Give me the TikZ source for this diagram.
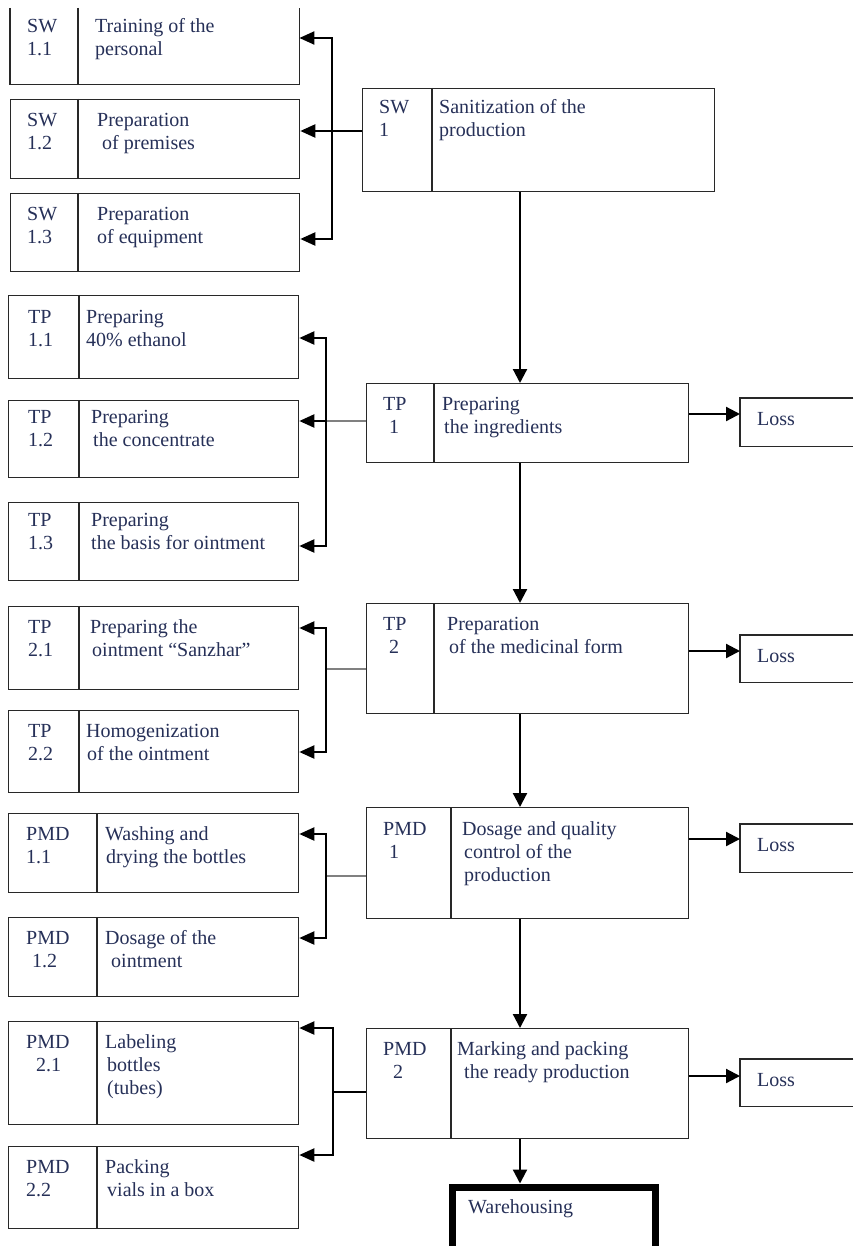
\documentclass[tikz,border=0pt]{standalone}
\usepackage{fontspec}
\setmainfont{Liberation Serif}
\usetikzlibrary{arrows.meta}
\definecolor{txtc}{RGB}{38,48,88}
\definecolor{linec}{RGB}{40,40,40}
\newcommand\pbox[6]{%
  \node[pboxst, minimum width={#4pt-#2pt}, minimum height={#5pt-#3pt}, anchor=north west] (#1) at (#2,#3) {};
  \draw[divst] (#6,#3) -- (#6,#5);}
\begin{document}
\begin{tikzpicture}[x=1pt,y=-1pt,
  pboxst/.style={draw=linec, line width=1.3pt, inner sep=0pt, fill=none},
  divst/.style={draw=linec, line width=1.2pt},
  txt/.style={anchor=base west, inner sep=0pt, align=left, text=txtc,
    font=\fontsize{20}{23}\selectfont},
  txt2/.style={txt, yshift=-23pt},
  txt3/.style={txt, yshift=-46pt},
  bus/.style={line width=2.2pt, black, -{Triangle[length=15pt,width=13pt]}},
  mainarr/.style={line width=2.2pt, black, -{Triangle[length=14pt,width=14pt]}},
  feedg/.style={line width=1.3pt, black!50},
  feedk/.style={line width=1.3pt, black},
  feedb/.style={line width=2pt, black}]
\useasboundingbox (0,0) rectangle (853,1246);
\fill[white] (0,0) rectangle (853,1246);

% ---------- SW group ----------
\node[inner sep=0pt, minimum width=289pt, minimum height=76pt, anchor=north west] (sw11) at (10,8) {};
\draw[pboxst] (sw11.north west) -- (sw11.south west) -- (sw11.south east) -- (sw11.north east);
\draw[divst] (78,8) -- (78,84);
\node[txt2] (sw11l) at (27,33) {SW\\1.1};
\node[txt2] (sw11t) at (95,33) {Training of the\\personal};

\pbox{sw12}{10}{99}{299}{178}{78}
\node[txt2] (sw12l) at (27,127) {SW\\1.2};
\node[txt2] (sw12t) at (97,127) {Preparation\\\hspace*{5pt}of premises};

\pbox{sw13}{10}{193}{299}{271}{78}
\node[txt2] (sw13l) at (27,221) {SW\\1.3};
\node[txt2] (sw13t) at (97,221) {Preparation\\of equipment};

\pbox{sw1}{362}{88}{714}{191}{432}
\node[txt2] (sw1l) at (379,114) {SW\\1};
\node[txt2] (sw1t) at (439,114) {Sanitization of the\\production};

\coordinate (jsw) at (332,131);
\coordinate (jsw1) at (332,38);
\coordinate (jsw3) at (332,239);
\draw[feedb] (sw1.west |- jsw) -- (jsw);
\draw[bus] (jsw) -- (sw12.east |- jsw);
\draw[bus] (jsw3) -- (jsw1) -- (sw11.east |- jsw1);
\draw[bus] (jsw1) -- (jsw3) -- (sw13.east |- jsw3);

% ---------- TP1 group ----------
\pbox{tp11}{8}{295}{298}{378}{79}
\node[txt2] (tp11l) at (28,323) {TP\\1.1};
\node[txt2] (tp11t) at (86,323) {Preparing\\40\% ethanol};

\pbox{tp12}{8}{400}{298}{477}{79}
\node[txt2] (tp12l) at (28,423) {TP\\1.2};
\node[txt2] (tp12t) at (91,423) {Preparing\\\hspace*{2pt}the concentrate};

\pbox{tp13}{8}{502}{298}{580}{79}
\node[txt2] (tp13l) at (28,526) {TP\\1.3};
\node[txt2] (tp13t) at (91,526) {Preparing\\the basis for ointment};

\pbox{tp1}{366}{383}{688}{462}{434}
\node[txt2] (tp1l) at (383,410) {TP\\\hspace*{6pt}1};
\node[txt2] (tp1t) at (442,410) {Preparing\\\hspace*{2pt}the ingredients};

\coordinate (jtp) at (326,421);
\coordinate (jtp1) at (326,338);
\coordinate (jtp3) at (326,546);
\draw[feedg] (tp1.west |- jtp) -- (jtp);
\draw[bus] (jtp) -- (tp12.east |- jtp);
\draw[bus] (jtp3) -- (jtp1) -- (tp11.east |- jtp1);
\draw[bus] (jtp1) -- (jtp3) -- (tp13.east |- jtp3);

% ---------- TP2 group ----------
\pbox{tp21}{8}{606}{298}{689}{79}
\node[txt2] (tp21l) at (28,633) {TP\\2.1};
\node[txt2] (tp21t) at (90,633) {Preparing the\\\hspace*{2pt}ointment “Sanzhar”};

\pbox{tp22}{8}{710}{298}{792}{79}
\node[txt2] (tp22l) at (28,737) {TP\\2.2};
\node[txt2] (tp22t) at (86,737) {Homogenization\\\hspace*{1pt}of the ointment};

\pbox{tp2}{366}{603}{688}{713}{434}
\node[txt2] (tp2l) at (383,630) {TP\\\hspace*{6pt}2};
\node[txt2] (tp2t) at (447,630) {Preparation\\\hspace*{2pt}of the medicinal form};

\coordinate (jtq) at (326,669);
\coordinate (jtq1) at (326,628);
\coordinate (jtq2) at (326,752);
\draw[feedg] (tp2.west |- jtq) -- (jtq);
\draw[bus] (jtq2) -- (jtq1) -- (tp21.east |- jtq1);
\draw[bus] (jtq1) -- (jtq2) -- (tp22.east |- jtq2);

% ---------- PMD1 group ----------
\pbox{pm11}{8}{813}{298}{892}{97}
\node[txt2] (pm11l) at (26,840) {PMD\\1.1};
\node[txt2] (pm11t) at (105,840) {Washing and\\\hspace*{1pt}drying the bottles};

\pbox{pm12}{8}{917}{298}{996}{97}
\node[txt2] (pm12l) at (26,944) {PMD\\\hspace*{6pt}1.2};
\node[txt2] (pm12t) at (105,944) {Dosage of the\\\hspace*{6pt}ointment};

\pbox{pm1}{366}{807}{688}{918}{451}
\node[txt2] (pm1l) at (383,835) {PMD\\\hspace*{6pt}1};
\node[txt3] (pm1t) at (462,835) {Dosage and quality\\\hspace*{2pt}control of the\\\hspace*{2pt}production};

\coordinate (jpm) at (326,876);
\coordinate (jpm1) at (326,834);
\coordinate (jpm2) at (326,938);
\draw[feedg] (pm1.west |- jpm) -- (jpm);
\draw[bus] (jpm2) -- (jpm1) -- (pm11.east |- jpm1);
\draw[bus] (jpm1) -- (jpm2) -- (pm12.east |- jpm2);

% ---------- PMD2 group ----------
\pbox{pm21}{8}{1021}{298}{1124}{97}
\node[txt2] (pm21l) at (26,1048) {PMD\\\hspace*{10pt}2.1};
\node[txt3] (pm21t) at (105,1048) {Labeling\\\hspace*{2pt}bottles\\\hspace*{2pt}(tubes)};

\pbox{pm22}{8}{1146}{298}{1228}{97}
\node[txt2] (pm22l) at (26,1173) {PMD\\2.2};
\node[txt2] (pm22t) at (105,1173) {Packing\\\hspace*{2pt}vials in a box};

\pbox{pm2}{366}{1028}{688}{1138}{451}
\node[txt2] (pm2l) at (383,1055) {PMD\\\hspace*{10pt}2};
\node[txt2] (pm2t) at (457,1055) {Marking and packing\\\hspace*{7pt}the ready production};

\coordinate (jpn) at (333,1092);
\coordinate (jpn1) at (333,1028);
\coordinate (jpn2) at (333,1155);
\draw[feedk] (pm2.west |- jpn) -- (jpn);
\draw[bus] (jpn2) -- (jpn1) -- (pm21.east |- jpn1);
\draw[bus] (jpn1) -- (jpn2) -- (pm22.east |- jpn2);

% ---------- Loss boxes ----------
\foreach \nm/\t/\b in {loss1/398/446, loss2/635/682, loss3/824/872, loss4/1059/1106}{
  \node[inner sep=0pt, minimum width=113pt, minimum height={\b pt-\t pt}, anchor=north west] (\nm) at (740,\t) {};
  \draw[pboxst] (\nm.north east) -- (\nm.north west) -- (\nm.south west) -- (\nm.south east);
}
\node[txt] (loss1t) at (757,425) {Loss};
\node[txt] (loss2t) at (757,662) {Loss};
\node[txt] (loss3t) at (757,851) {Loss};
\node[txt] (loss4t) at (757,1086) {Loss};

\draw[mainarr] (tp1.east |- 0,414) -- (loss1.west |- 0,414);
\draw[mainarr] (tp2.east |- 0,651) -- (loss2.west |- 0,651);
\draw[mainarr] (pm1.east |- 0,839) -- (loss3.west |- 0,839);
\draw[mainarr] (pm2.east |- 0,1076) -- (loss4.west |- 0,1076);

% ---------- Warehousing ----------
\node[inner sep=0pt, minimum width=203pt, minimum height=59pt, anchor=north west] (wh) at (452,1187) {};
\draw[line width=7pt, black, line join=miter] (wh.south west) -- (wh.north west) -- (wh.north east) -- (wh.south east);
\node[txt] (wht) at (468,1213) {Warehousing};

% ---------- main flow ----------
\coordinate (ax) at (520,0);
\draw[mainarr] (sw1.south -| ax) -- (tp1.north -| ax);
\draw[mainarr] (tp1.south -| ax) -- (tp2.north -| ax);
\draw[mainarr] (tp2.south -| ax) -- (pm1.north -| ax);
\draw[mainarr] (pm1.south -| ax) -- (pm2.north -| ax);
\draw[mainarr] (pm2.south -| ax) -- ([yshift=3.5pt]wh.north -| ax);
\end{tikzpicture}
\end{document}
